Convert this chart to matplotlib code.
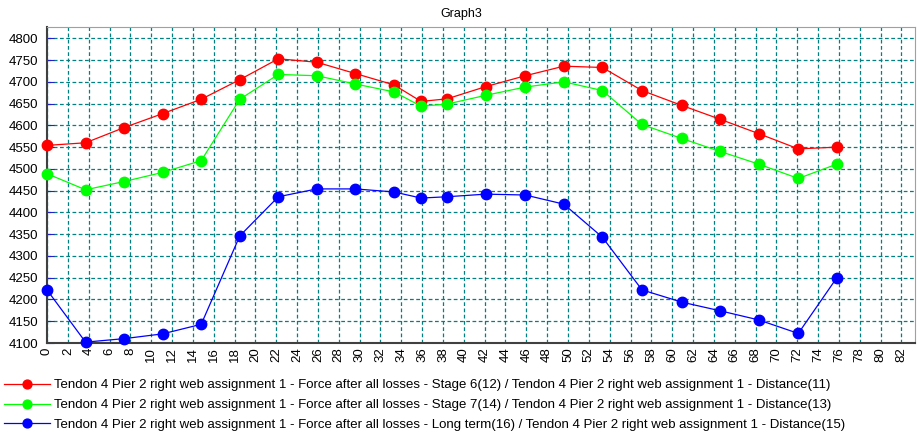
import matplotlib.pyplot as plt
import numpy as np

plt.rcParams['font.family'] = ['Liberation Sans', 'DejaVu Sans']

# distance along tendon
dist = [0, 3.7, 7.4, 11.1, 14.8, 18.5, 22.2, 25.9, 29.6, 33.3, 35.9,
        38.4, 42.1, 45.9, 49.6, 53.3, 57.1, 60.9, 64.6, 68.3, 72.1, 75.8]

stage6 = [4554, 4560, 4595, 4627, 4660, 4705, 4753, 4745, 4719, 4693, 4655,
          4661, 4689, 4714, 4736, 4733, 4680, 4646, 4614, 4581, 4546, 4550]
stage7 = [4489, 4452, 4471, 4492, 4519, 4660, 4717, 4714, 4695, 4677, 4644,
          4649, 4669, 4688, 4700, 4680, 4602, 4570, 4540, 4511, 4478, 4511]
longterm = [4222, 4102, 4110, 4121, 4143, 4346, 4436, 4454, 4454, 4447, 4433,
            4436, 4442, 4440, 4419, 4343, 4222, 4194, 4174, 4153, 4122, 4250]

pre = 'Tendon 4 Pier 2 right web assignment 1 - Force after all losses - '
post = ' / Tendon 4 Pier 2 right web assignment 1 - Distance'
labels = [pre + 'Stage 6(12)' + post + '(11)',
          pre + 'Stage 7(14)' + post + '(13)',
          pre + 'Long term(16)' + post + '(15)']

fig = plt.figure(figsize=(9.17, 4.32), dpi=100)
ax = fig.add_axes([47/917, 1 - 343/432, (915 - 47)/917, (343 - 27)/432])

series = [(stage6, '#ff0000'), (stage7, '#00ff00'), (longterm, '#0000ff')]
handles = []
for (vals, col), lab in zip(series, labels):
    h, = ax.plot(dist, vals, color=col, lw=0.9, marker='o', ms=7.5,
                 mec=col, mfc=col, label=lab, clip_on=False, zorder=3)
    handles.append(h)

ax.set_xlim(0, 83.3)
ax.set_ylim(4100, 4826)
ax.set_xticks(np.arange(0, 84, 2))
ax.set_yticks(np.arange(4100, 4801, 50))
ax.tick_params(axis='x', labelrotation=90, labelsize=9.5, length=0, pad=3)
ax.tick_params(axis='y', labelsize=9.5, length=5, direction='in',
               color='#2020d0', pad=6)
ax.grid(True, color='#008080', ls=(0, (3, 2)), lw=0.9)
ax.set_axisbelow(True)

for s in ['top', 'right']:
    ax.spines[s].set_color('#a0a0a0')
for s in ['left', 'bottom']:
    ax.spines[s].set_color('#404040')
    ax.spines[s].set_linewidth(1.5)

fig.text(461/917, 1 - 14/432, 'Graph3', ha='center', va='center', fontsize=9)

fig.legend(handles=handles, loc='upper left',
           bbox_to_anchor=(4/917, 1 - 379/432), frameon=False,
           handlelength=3.5, handletextpad=0.3, labelspacing=0.58,
           borderaxespad=0, borderpad=0, markerscale=0.85,
           prop={'size': 9.5})

fig.savefig('out.png', dpi=100)
